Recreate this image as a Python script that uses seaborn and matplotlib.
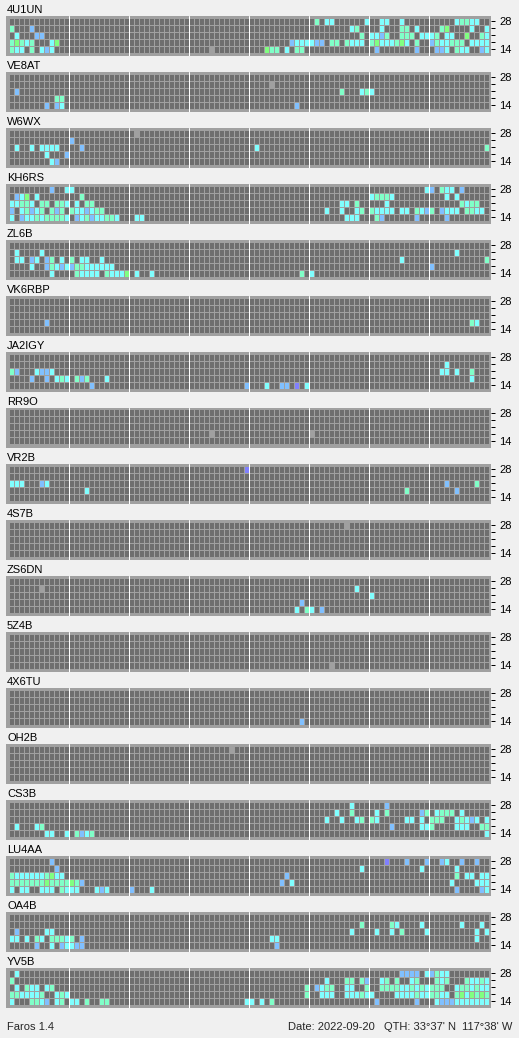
import numpy as np
import pandas as pd
import matplotlib
matplotlib.use("Agg")
import matplotlib.pyplot as plt
from matplotlib.colors import ListedColormap
import seaborn as sns

# beacon names, top to bottom
stations = ["4U1UN", "VE8AT", "W6WX", "KH6RS", "ZL6B", "VK6RBP", "JA2IGY", "RR9O", "VR2B",
            "4S7B", "ZS6DN", "5Z4B", "4X6TU", "OH2B", "CS3B", "LU4AA", "OA4B", "YV5B"]
bands = ["28", "24", "21", "18", "14"]
n_slots = 96  # 15 min slots over 24 h

# signal level codes: g=heard, i/b/c/a/G = weak .. strong
level_codes = {"g": 1, "i": 2, "b": 3, "c": 4, "a": 5, "G": 6}
level_colors = ["#6e6e6e", "#a0a0a0", "#8080ff", "#80c0ff", "#80ffff", "#80ffc8", "#80ff80"]

# one string per band (28, 24, 21, 18, 14): "<slot><code>"
st_4u1un = [
    "61a 63c 64c 71c 74c 75c 78c 89c 90a 91a 92c 93c",
    "0a 4b 68c 69a 74c 78a 79a 81c 86a 87G 92c 95c",
    "1c 5b 6b 70a 72c 73c 74b 75a 78a 79a 80a 82c 83c 84c 85a 87c 88c 91G 94a 95c",
    "0a 1G 2a 3c 4a 8c 9G 56b 57c 58c 59c 60c 61b 62b 64a 65a 67a 68c 69c 70c 72a 73G 74c 75c 76c "
    "77a 78G 79c 81a 84b 85a 86c 87c 88a 89a 90a 92c 93c 94c 95c",
    "0a 1c 2c 4a 6c 7b 8c 40g 51G 52a 53a 55c 57a 58a 73b 81b 85b 86b 87c 89a 90c 91c 94b 95c",
]
st_ve8at = ["", "52g", "1b 66a 70c 71a 72c", "9a 10a", "7b 9b 10c 57b"]
st_w6wx = ["25g", "12b", "1c 4c 6c 7c 8c 9c 14b 49c 95a", "7c 11b", "8c 9b"]
st_kh6rs = [
    "8b 11c 12c 83c 84b 86a 87c 88c 90b",
    "1b 2c 3G 5c 14a 72c 73a 74a 75a 76c 87c 89c",
    "0c 1c 2a 3a 4c 6a 7a 9a 10a 11c 13c 15a 16a 66c 67c 69a 75c 90a 91c 92a 93a",
    "0b 2c 3a 4b 5c 6a 8a 9b 10a 12a 13c 14c 15b 16c 17a 18a 63c 66c 69c 70a 72a 73c 74c 75c 76c "
    "78c 79c 81a 82c 83b 84a 86b 87c 88c 89c 91a 92a 93c 94c",
    "0c 2b 3c 4c 5a 6c 7a 8a 9a 10a 11c 13b 14c 15a 16b 17c 18c 19a 20a 21c 25c 26c 67c 68c 69c "
    "73a 74b 81b 87b",
]
st_zl6b = [
    "",
    "1c 6c 89c",
    "1c 2c 4b 5c 7b 8a 10c 12a 14c 15c 18c 78c 95a",
    "4c 7b 8a 9c 10b 11c 12b 13a 14a 15c 16c 17c 18c 19c 20c 84b",
    "8c 13a 14c 15c 16c 17c 19a 20c 21c 22c 23G 25c 28c 58a 60c",
]
st_vk6rbp = ["", "", "", "7b 92a 93c", ""]
st_ja2igy = [
    "",
    "87c",
    "0a 1b 5c 6b 7b 8c 86c 87c 89c 92a",
    "4b 7b 9c 10a 11c 13a 14b 15a 19c 92c",
    "16b 47b 51c 54b 55b 57i 59c",
]
st_rr9o = ["", "", "", "40g 60g", ""]
st_vr2b = ["47i", "", "0c 1c 2c 6b 7c 87b 93a", "15c 79a 89b", ""]
st_4s7b = ["67g", "", "", "", ""]
st_zs6dn = ["", "6g 69c", "72c", "58b", "57c 59a 60c 62b"]
st_5z4b = ["", "", "", "", "64g"]
st_4x6tu = ["", "", "", "", "58b"]
st_oh2b = ["44g", "", "", "", ""]
st_cs3b = [
    "68c 75b",
    "65c 68a 73c 75a 82b 83a 85c 86a 87a 88a 90c",
    "63c 66c 69c 70a 72a 73c 79c 80c 82c 84a 85a 86a 89c 90a 91c 92b 93c 95c",
    "1c 5c 6a 76b 82c 83c 84a 89c 90c 91c 94a 95a",
    "7c 8c 11c 13a 14b 15c 16a 95c",
]
st_lu4aa = [
    "8b 75i 79b 83b 86b 87c 90b 93b",
    "9b 70c 82c 89c",
    "0a 1c 2c 3c 4c 5c 6c 7a 8G 9c 10c 55b 89a 91c 92c 94c 95c",
    "0a 1a 2a 3a 4a 5a 6a 7G 8a 9a 10a 11a 12G 13a 14b 54b 56c 88c 93c 94c 95c",
    "0c 2c 3c 6c 7c 8c 10a 11c 12c 13c 17c 18b 19c 24b 28c 89b 94b 95c",
]
st_oa4b = [
    "",
    "70a 76a 77c 82c 90c 94c",
    "1b 7c 8c 68c 73c 76c 78a 83c 93c 95c",
    "0c 1c 3c 5a 6c 8a 9a 10a 11c 12a 14b 52c 53c 93c",
    "5b 8c 10b 11c 12c 13b 14b 53b",
]
st_yv5b = [
    "1c 78b 79b 80b 81b 83c 84b 85a 86c 87c",
    "0a 63c 67a 68a 70a 71b 74c 75a 77a 80c 81a 85a 86c 87a 91a 92c 93c 94a 95c",
    "1c 3a 4c 5c 7c 8a 59a 61b 62c 63a 64a 67c 68c 71a 74a 75a 76a 77a 78c 79c 80a 81c 82a 83c "
    "84a 85a 86a 89c 90a 91a 92c 93a 94c 95c",
    "0a 1a 2c 3c 4c 5c 6a 9c 10a 11c 59a 62c 63c 64c 67c 68c 69c 70a 71c 72c 77c 78c 79c 80c 81a "
    "82c 83c 84a 85a 86c 87c 89a 90G 91c 92G 93a 94G 95a",
    "0c 4a 5a 6c 7b 9c 10a 12c 13c 15a 18a 19a 47c 48c 50c 52a 73b 81b 85c 86b 87b 88b 89c 90c "
    "91c 92c 93c 94c 95c",
]

station_rows = [st_4u1un, st_ve8at, st_w6wx, st_kh6rs, st_zl6b, st_vk6rbp, st_ja2igy, st_rr9o,
                st_vr2b, st_4s7b, st_zs6dn, st_5z4b, st_4x6tu, st_oh2b, st_cs3b, st_lu4aa,
                st_oa4b, st_yv5b]


def to_grid(rows):
    g = np.zeros((len(bands), n_slots), dtype=int)
    for r, txt in enumerate(rows):
        for tok in txt.split():
            g[r, int(tok[:-1])] = level_codes[tok[-1]]
    return g


sns.set_theme(style="white")
plt.rcParams["font.family"] = ["Liberation Sans", "DejaVu Sans"]

W, H = 519, 1038
fig = plt.figure(figsize=(W / 100, H / 100), dpi=100, facecolor="#f0f0f0")
cmap = ListedColormap(level_colors)
box = "#a0a0a0"

for k, (name, rows) in enumerate(zip(stations, station_rows)):
    top = 16 + 56 * k
    ax = fig.add_axes([6 / W, 1 - (top + 40) / H, 485 / W, 40 / H])
    df = pd.DataFrame(to_grid(rows), index=bands)
    sns.heatmap(df, ax=ax, cmap=cmap, vmin=-0.5, vmax=6.5, cbar=False,
                linewidths=0.72, linecolor=box, xticklabels=False)
    ax.set_facecolor(box)
    ax.set_xlim(-0.5, n_slots + 0.5)
    ax.set_ylim(5.5, -1.5 / 7)
    for h in range(12, n_slots, 12):
        ax.axvline(h, color="white", lw=0.72)
    ax.set_yticks(np.arange(len(bands)) + 0.5)
    ax.set_yticklabels(["28", "", "", "", "14"], rotation=0)
    ax.tick_params(axis="y", left=False, right=True, labelleft=False, labelright=True,
                   length=3, width=0.72, pad=3, labelsize=8, colors="black")
    ax.tick_params(axis="x", bottom=False, labelbottom=False)
    ax.set_xlabel("")
    ax.set_ylabel("")
    fig.text(7 / W, 1 - (top - 3) / H, name, fontsize=8, va="baseline", ha="left", color="black")

base = 1 - 1029.5 / H
fig.text(7 / W, base, "Faros 1.4", fontsize=8, va="baseline", ha="left")
fig.text(375 / W, base, "Date: 2022-09-20", fontsize=8, va="baseline", ha="right")
fig.text(456 / W, base, "QTH: 33°37' N", fontsize=8, va="baseline", ha="right")
fig.text(512 / W, base, "117°38' W", fontsize=8, va="baseline", ha="right")

fig.savefig("out.png", dpi=100, facecolor=fig.get_facecolor())
